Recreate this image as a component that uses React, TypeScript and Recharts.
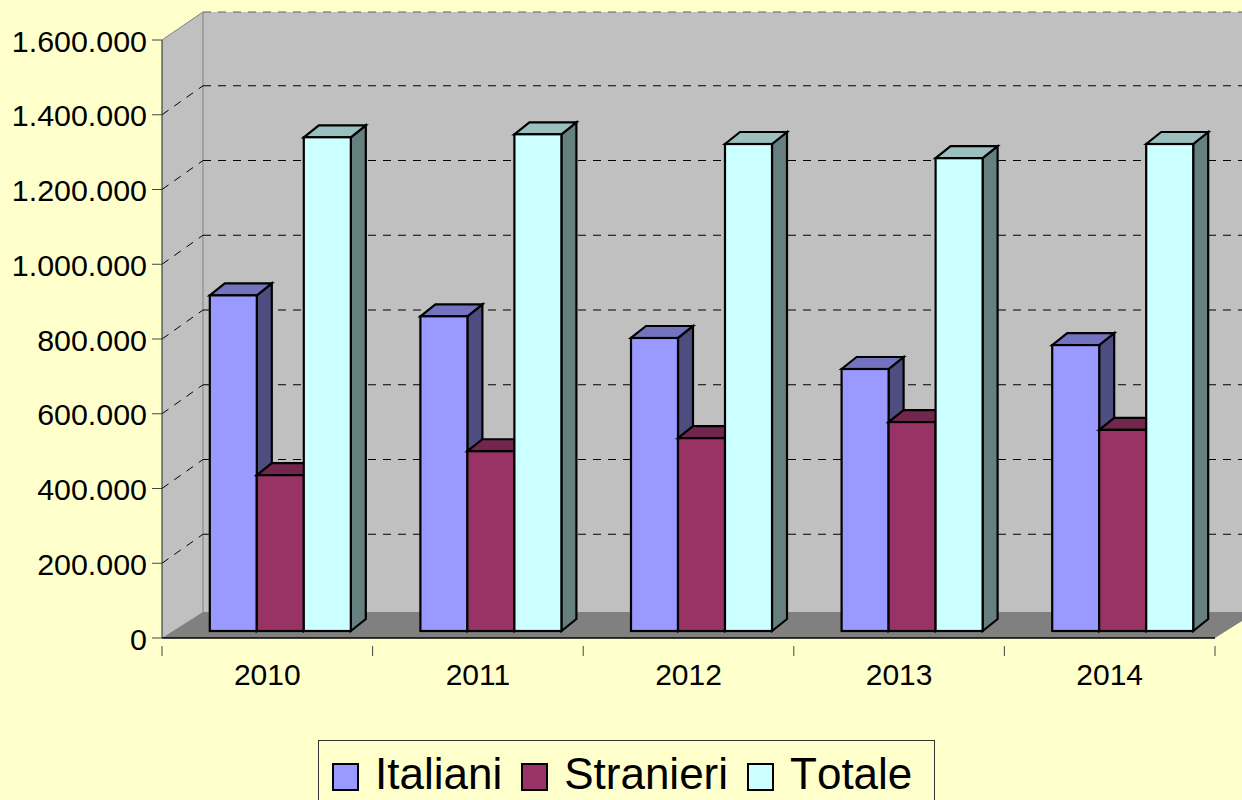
import React from "react";
import { BarChart, Bar, XAxis, YAxis, CartesianGrid, Legend } from "recharts";

const years = ["2010", "2011", "2012", "2013", "2014"];
const italiani = [898000, 842000, 784000, 701000, 765000];
const stranieri = [417000, 481000, 516000, 559000, 538000];
const totale = [1321000, 1329000, 1303000, 1265000, 1303000];
const yTicks = [0, 200000, 400000, 600000, 800000, 1000000, 1200000, 1400000, 1600000];

const seriesNames = ["Italiani", "Stranieri", "Totale"];
const seriesColors = ["#9999ff", "#993366", "#ccffff"];

const rows = years.map((year, i) => ({
  year,
  Italiani: italiani[i],
  Stranieri: stranieri[i],
  Totale: totale[i],
}));

const FONT = "'Liberation Sans', Arial, sans-serif";
const WALL_DX = 41;
const GRID_DY = -29;
const FLOOR_DY = -26;
const TOP_DY = -28;
const BAR_DX = 12.5;
const BAR_DY = -7;
const DEPTH_DX = 15;
const DEPTH_DY = -12;

const shade = (hex: string, f: number) => {
  const n = parseInt(hex.slice(1), 16);
  const c = [(n >> 16) & 255, (n >> 8) & 255, n & 255].map((v) => Math.round(v * f));
  return `rgb(${c[0]},${c[1]},${c[2]})`;
};

const formatTick = (v: number) => String(v).replace(/\B(?=(\d{3})+(?!\d))/g, ".");

const Bar3D = (props: any) => {
  const { x, y, width, height, fill } = props;
  const l = x + BAR_DX;
  const r = l + width;
  const t = y + BAR_DY;
  const b = t + height;
  const common = { stroke: "#000", strokeWidth: 2.2, strokeLinejoin: "miter" as const };
  return (
    <g>
      <polygon
        points={`${r},${t} ${r + DEPTH_DX},${t + DEPTH_DY} ${r + DEPTH_DX},${b + DEPTH_DY} ${r},${b}`}
        fill={shade(fill, 0.5)}
        {...common}
      />
      <polygon
        points={`${l},${t} ${l + DEPTH_DX},${t + DEPTH_DY} ${r + DEPTH_DX},${t + DEPTH_DY} ${r},${t}`}
        fill={shade(fill, 0.75)}
        {...common}
      />
      <rect x={l} y={t} width={width} height={height} fill={fill} {...common} />
    </g>
  );
};

const WallLine = (props: any) => {
  const { x1, x2, y1, index } = props;
  const isFloor = Math.abs(y1 - 638) < 1;
  const isTop = Math.abs(y1 - 40) < 1;
  const backL = x1 + WALL_DX;
  const backR = x2 + WALL_DX;
  const by = y1 + (isTop ? TOP_DY : GRID_DY);
  const topY = 40 + TOP_DY;
  const floorY = 638 + FLOOR_DY;
  const walls =
    index === 0 ? (
      <g>
        <polygon points={`${x1},40 ${backL},${topY} ${backR},${topY} ${backR},${floorY} ${x1},638`} fill="#c0c0c0" />
        <polygon points={`${x1},638 ${backL},${floorY} ${backR},${floorY} ${x2},638`} fill="#808080" />
        <line x1={backL} y1={topY} x2={backL} y2={floorY} stroke="#808080" strokeWidth={1} />
        <line x1={x1} y1={40} x2={backL} y2={topY} stroke="#808080" strokeWidth={1} />
      </g>
    ) : null;
  return (
    <g>
      {walls}
      {!isFloor && (
        <g stroke={isTop ? "#606060" : "#000"} strokeWidth={1} strokeDasharray="8 7" fill="none">
          {!isTop && <line x1={x1} y1={y1} x2={backL} y2={by} />}
          <line x1={backL} y1={by} x2={backR} y2={by} />
        </g>
      )}
    </g>
  );
};

const XTick = (props: any) => {
  const { x, y, payload, width, visibleTicksCount, index } = props;
  const band = width / visibleTicksCount;
  const left = x - band / 2;
  const right = x + band / 2;
  return (
    <g>
      <line x1={left} y1={y} x2={left} y2={y + 10} stroke="#444" />
      {index === visibleTicksCount - 1 && <line x1={right} y1={y} x2={right} y2={y + 10} stroke="#444" />}
      <text x={x} y={y + 47} dy={-8} textAnchor="middle" fontFamily={FONT} fontSize={30} fill="#000">
        {payload.value}
      </text>
    </g>
  );
};

const YTick = (props: any) => {
  const { x, y, payload } = props;
  return (
    <text x={x} y={y + 11.5} textAnchor="end" fontFamily={FONT} fontSize={30.4} fill="#000">
      {formatTick(payload.value)}
    </text>
  );
};

const LegendBox = (props: any) => {
  const items = props.payload || [];
  return (
    <div
      style={{
        boxSizing: "border-box",
        width: 617,
        height: 80,
        border: "1px solid #333",
        background: "#ffffcc",
        position: "relative",
        fontFamily: FONT,
        fontSize: 44,
        fontKerning: "none",
        color: "#000",
        display: "flex",
        alignItems: "flex-start",
        paddingLeft: 13,
        paddingTop: 8,
        lineHeight: "50px",
        whiteSpace: "nowrap",
      }}
    >
      {items.map((it: any) => (
        <div key={it.value} style={{ display: "flex", alignItems: "center", marginRight: 19 }}>
          <span
            style={{
              display: "inline-block",
              boxSizing: "border-box",
              width: 27,
              height: 28,
              marginTop: 6,
              border: "2px solid #000",
              background: it.color,
              marginRight: 16,
            }}
          />
          <span>{it.value}</span>
        </div>
      ))}
    </div>
  );
};

export default function App() {
  return (
    <div style={{ position: "absolute", left: 0, top: 0, width: 1242, height: 800, overflow: "hidden", background: "#ffffcc" }}>
      <BarChart
        width={1242}
        height={800}
        data={rows}
        margin={{ top: 40, right: 27, bottom: 100, left: 0 }}
        barCategoryGap={35.3}
        barGap={0}
      >
        <CartesianGrid horizontal={WallLine} vertical={false} />
        <XAxis
          dataKey="year"
          height={62}
          axisLine={{ stroke: "#000", strokeWidth: 1.5 }}
          tickLine={false}
          tick={XTick}
          interval={0}
        />
        <YAxis
          width={162}
          domain={[0, 1600000]}
          ticks={yTicks}
          axisLine={{ stroke: "#222", strokeWidth: 1 }}
          tickLine={{ stroke: "#444" }}
          tickSize={10}
          tickMargin={5}
          tick={YTick}
          interval={0}
        />
        <Legend
          layout="horizontal"
          align="center"
          verticalAlign="middle"
          content={LegendBox}
          wrapperStyle={{ left: 318, top: 740, width: 617, height: 60, margin: 0 }}
        />
        {seriesNames.map((name, i) => (
          <Bar key={name} dataKey={name} fill={seriesColors[i]} shape={Bar3D} isAnimationActive={false} />
        ))}
      </BarChart>
    </div>
  );
}
